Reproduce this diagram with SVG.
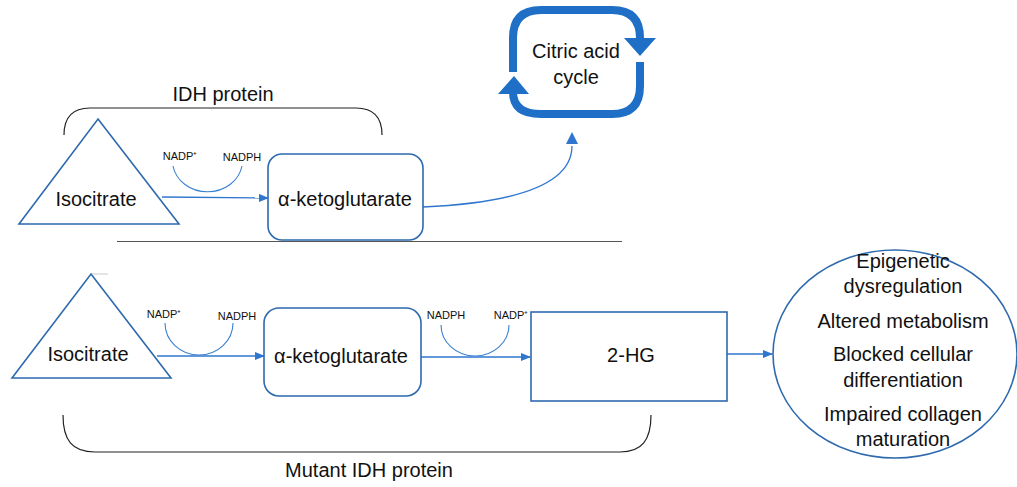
<svg xmlns="http://www.w3.org/2000/svg" width="1017" height="487" viewBox="0 0 1017 487">
<defs>
<marker id="ah" markerWidth="10" markerHeight="8" refX="9" refY="4" orient="auto" markerUnits="userSpaceOnUse">
<path d="M0,0 L10,4 L0,8 Z" fill="#2F76CF"/>
</marker>
<style>
text{font-family:"Liberation Sans",Arial,sans-serif;fill:#111;text-anchor:middle}
.big{font-size:20px}
.sm{font-size:11px}
.node{fill:#fff;stroke:#2E6AAE;stroke-width:1.6}
.conn{fill:none;stroke:#2F76CF;stroke-width:1.3}
.arc{fill:none;stroke:#3A80D2;stroke-width:1.1}
.brace{fill:none;stroke:#222;stroke-width:1.2}
.cyc{fill:none;stroke:#1E6FC5;stroke-width:8}
</style>
</defs>
<rect width="1017" height="487" fill="#fff"/>

<g id="connectors">
<line class="conn" x1="162" y1="197" x2="268" y2="198" marker-end="url(#ah)"/>
<path class="conn" d="M423,207 C512,203 572,186 572,146"/>
<path d="M566,144 L578,144 L572,132 Z" fill="#2F76CF"/>
<line class="conn" x1="157" y1="356" x2="264" y2="356" marker-end="url(#ah)"/>
<line class="conn" x1="421" y1="357" x2="530" y2="357" marker-end="url(#ah)"/>
<line class="conn" x1="727" y1="354" x2="772" y2="354" marker-end="url(#ah)"/>
<path class="arc" d="M173,166 A35 31 0 0 0 242 166"/>
<path class="arc" d="M165,323 A34 32 0 0 0 233 323"/>
<path class="arc" d="M441,325 A34 31 0 0 0 509 325"/>
</g>

<g id="labels">
<text class="sm" x="180" y="160">NADP⁺</text>
<text class="sm" x="242" y="161">NADPH</text>
<text class="sm" x="164" y="318">NADP⁺</text>
<text class="sm" x="237" y="320">NADPH</text>
<text class="sm" x="446" y="319">NADPH</text>
<text class="sm" x="511" y="319">NADP⁺</text>
</g>

<g id="separator">
<line x1="117" y1="241.5" x2="622" y2="241.5" stroke="#555" stroke-width="1"/>
</g>

<g id="idh-brace">
<path class="brace" d="M64,135 C64,118 72,108 90,108 L356,108 C374,108 382,118 382,135"/>
<text class="big" x="223" y="101">IDH protein</text>
</g>

<g id="mutant-brace">
<path class="brace" d="M63,415 C63,440 72,452 95,452 L620,452 C642,452 651,440 651,415"/>
<text class="big" x="369" y="477">Mutant IDH protein</text>
</g>

<g id="isocitrate-top">
<polygon class="node" points="98,119 179,224 19,224"/>
<text class="big" x="96" y="206">Isocitrate</text>
</g>

<g id="akg-top">
<rect class="node" x="268" y="154" width="155" height="86" rx="14"/>
<text class="big" x="345" y="206">α-ketoglutarate</text>
</g>

<g id="citric-acid-cycle">
<path class="cyc" d="M513,72 L513,38 Q513,10 541,10 L612,10 Q640,10 640,38 L640,41"/>
<path d="M624,38 L656,38 L640,56 Z" fill="#1E6FC5"/>
<path class="cyc" d="M640,62 L640,86 Q640,114 612,114 L541,114 Q513,114 513,92"/>
<path d="M498,94 L529,94 L514,76 Z" fill="#1E6FC5"/>
<text class="big" x="576" y="58">Citric acid</text>
<text class="big" x="576" y="84">cycle</text>
</g>

<g id="isocitrate-bottom">
<polygon class="node" points="91,274 171,378 12,378"/>
<line x1="92" y1="274" x2="108" y2="274" stroke="#ccc" stroke-width="1"/>
<text class="big" x="88" y="361">Isocitrate</text>
</g>

<g id="akg-bottom">
<rect class="node" x="264" y="308" width="157" height="88" rx="15"/>
<text class="big" x="341" y="363">α-ketoglutarate</text>
</g>

<g id="hg2">
<rect class="node" x="531" y="312" width="196" height="89" stroke="#4A84C2"/>
<text class="big" x="631" y="362">2-HG</text>
</g>

<g id="outcomes">
<ellipse class="node" cx="895" cy="354" rx="122" ry="104"/>
<text class="big" x="903" y="268">Epigenetic</text>
<text class="big" x="903" y="293">dysregulation</text>
<text class="big" x="903" y="328">Altered metabolism</text>
<text class="big" x="903" y="361">Blocked cellular</text>
<text class="big" x="903" y="387">differentiation</text>
<text class="big" x="903" y="421">Impaired collagen</text>
<text class="big" x="903" y="446">maturation</text>
</g>
</svg>
